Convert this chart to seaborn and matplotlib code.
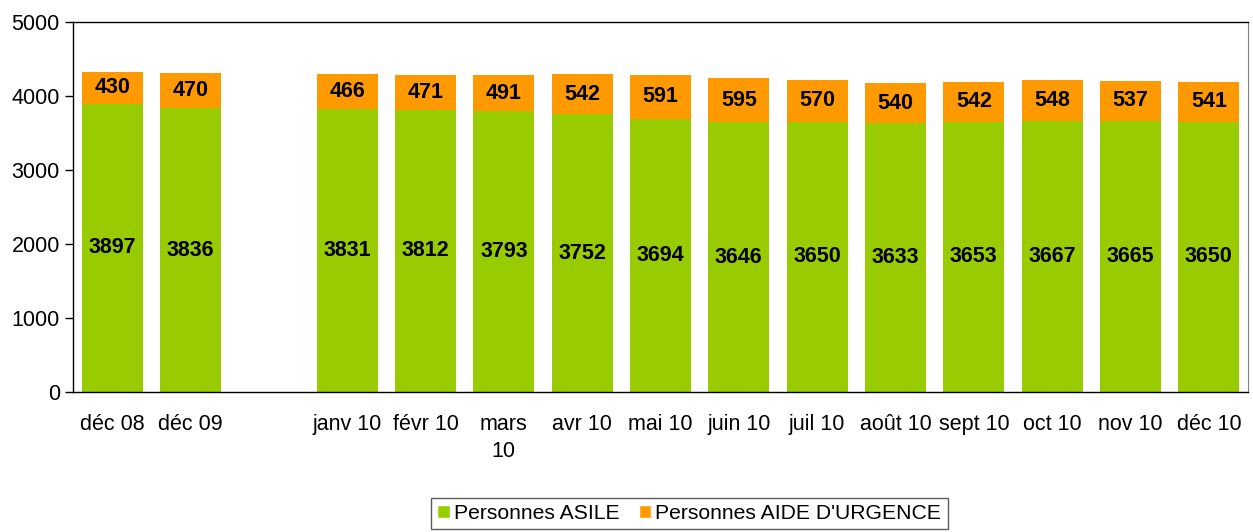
import numpy as np
import pandas as pd
import seaborn as sns
import matplotlib.pyplot as plt
from matplotlib.patches import Patch

categories = ["déc 08", "déc 09", " ", "janv 10", "févr 10", "mars\n10", "avr 10", "mai 10",
              "juin 10", "juil 10", "août 10", "sept 10", "oct 10", "nov 10", "déc 10"]
asile = [3897, 3836, np.nan, 3831, 3812, 3793, 3752, 3694, 3646, 3650, 3633, 3653, 3667, 3665, 3650]
urgence = [430, 470, np.nan, 466, 471, 491, 542, 591, 595, 570, 540, 542, 548, 537, 541]

green = '#99CC00'
orange = '#FF9900'

sns.set_style('white')
plt.rcParams['font.family'] = ['Liberation Sans', 'DejaVu Sans']
plt.rcParams['text.color'] = 'black'
plt.rcParams['xtick.color'] = 'black'
plt.rcParams['ytick.color'] = 'black'

df = pd.DataFrame({'cat': categories, 'asile': asile, 'urgence': urgence})
df['total'] = df['asile'] + df['urgence']

fig = plt.figure(figsize=(12.53, 5.32), dpi=100)
ax = fig.add_axes([0.0583, 0.2632, 0.9377, 0.6954])

sns.barplot(data=df, x='cat', y='total', order=categories, color=orange, width=0.78,
            saturation=1, ax=ax, linewidth=0)
sns.barplot(data=df, x='cat', y='asile', order=categories, color=green, width=0.78,
            saturation=1, ax=ax, linewidth=0)

for i, (a, u) in enumerate(zip(asile, urgence)):
    if np.isnan(a):
        continue
    ax.text(i, a / 2, f'{int(a)}', ha='center', va='center', fontsize=15.5,
            fontweight='bold', color='black')
    ax.text(i, a + u / 2, f'{int(u)}', ha='center', va='center', fontsize=15.5,
            fontweight='bold', color='black')

ax.set_xlim(-0.5, len(categories) - 0.5)
ax.set_ylim(0, 5000)
ax.set_yticks(range(0, 5001, 1000))
ax.set_xlabel('')
ax.set_ylabel('')

ax.set_xticks(np.arange(-0.5, len(categories), 1.0), minor=True)
ax.tick_params(axis='x', which='major', length=0, pad=16, labelsize=15.5, labelcolor='black')
ax.tick_params(axis='x', which='minor', length=6, width=1, color='black', direction='out')
ax.tick_params(axis='y', which='major', length=6, width=1, color='black', direction='out',
               labelsize=15.5, labelcolor='black', left=True)
ax.tick_params(axis='x', bottom=True)
for lbl in ax.get_xticklabels():
    lbl.set_linespacing(1.35)

for s in ['left', 'bottom', 'top']:
    ax.spines[s].set_color('black')
    ax.spines[s].set_linewidth(1)
ax.spines['right'].set_color('#808080')

handles = [Patch(facecolor=green, label='Personnes ASILE'),
           Patch(facecolor=orange, label="Personnes AIDE D'URGENCE")]
leg = fig.legend(handles=handles, loc='lower center', bbox_to_anchor=(0.55, -0.015), ncol=2,
                 fontsize=15.2, frameon=True, fancybox=False, edgecolor='#333333',
                 handlelength=0.6, handleheight=0.6, handletextpad=0.2, columnspacing=0.9,
                 borderpad=0.3, labelcolor='black')
leg.get_frame().set_linewidth(1)

fig.savefig('out.png', dpi=100)
